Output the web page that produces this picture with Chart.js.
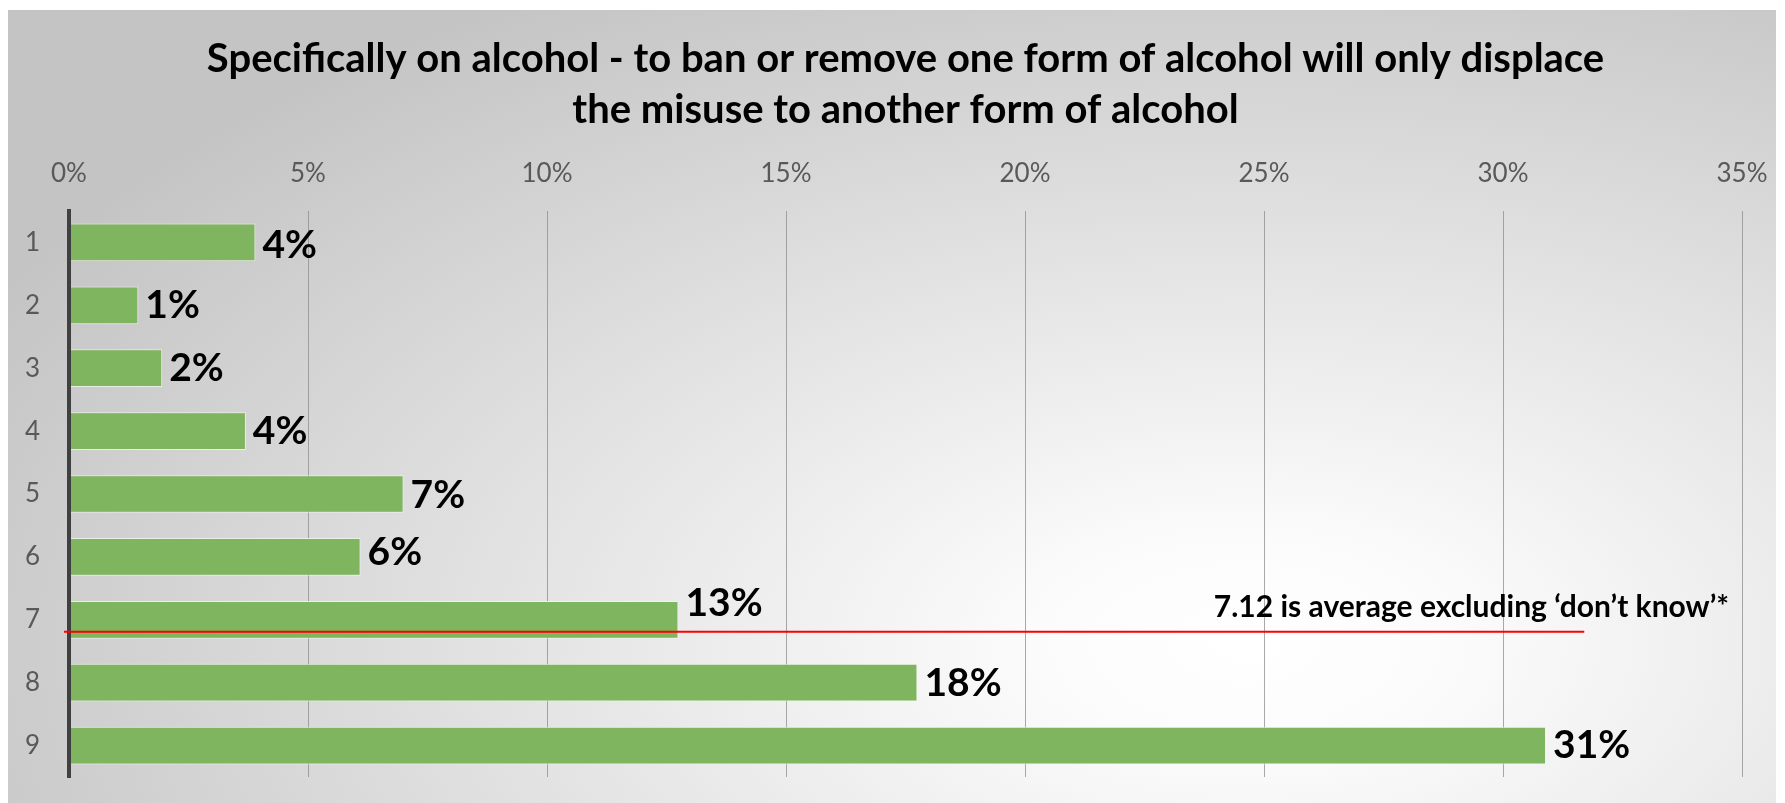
<!DOCTYPE html>
<html>
<head>
<meta charset="utf-8">
<script src="https://cdn.jsdelivr.net/npm/chart.js@4"></script>
<style>
  html, body { margin: 0; padding: 0; background: #fff; }
  body { width: 1785px; height: 803px; position: relative; overflow: hidden; }
  #panel {
    position: absolute; left: 8px; top: 10px; width: 1768px; height: 793px;
    background: radial-gradient(ellipse 80% 95% at 70% 80%, #ffffff 0%, #fbfbfb 15%, #c4c4c4 100%);
  }
  canvas { display: block; }
</style>
</head>
<body>
<div id="panel"><canvas id="chart" width="1768" height="793"></canvas></div>
<script>
// rating 1..9, share of respondents (%)
const categories = ['1', '2', '3', '4', '5', '6', '7', '8', '9'];
const shares = [3.9, 1.45, 1.95, 3.7, 7.0, 6.1, 12.75, 17.75, 30.9];
const xTickStep = 5;
const xMax = 35;

const titleLines = [
  'Specifically on alcohol - to ban or remove one form of alcohol will only displace',
  'the misuse to another form of alcohol'
];

// drawn average marker (category position, x extent in %)
const avgLineAt = 7.19;
const avgLineTo = 31.7;
const avgText = '7.12 is average excluding \u2018don\u2019t know\u2019*';

const barLabels = {
  id: 'barLabels',
  afterDatasetsDraw(chart, args, opts) {
    const ctx = chart.ctx;
    const meta = chart.getDatasetMeta(0);
    ctx.save();
    ctx.font = 'bold 39px Lato';
    ctx.fillStyle = '#000';
    ctx.textAlign = 'left';
    ctx.textBaseline = 'middle';
    meta.data.forEach((bar, i) => {
      const shift = (opts.shift && opts.shift[i]) || 0;
      ctx.fillText(Math.round(shares[i]) + '%', bar.x + 7, bar.y + shift);
    });
    ctx.restore();
  }
};

const avgMarker = {
  id: 'avgMarker',
  afterDraw(chart) {
    const ctx = chart.ctx;
    const x = chart.scales.x, y = chart.scales.y;
    const yy = y.getPixelForValue(avgLineAt - 1);
    ctx.save();
    ctx.strokeStyle = '#ff0000';
    ctx.lineWidth = 2;
    ctx.beginPath();
    ctx.moveTo(chart.chartArea.left - 5, yy);
    ctx.lineTo(x.getPixelForValue(avgLineTo), yy);
    ctx.stroke();
    ctx.font = 'bold 30px Lato';
    ctx.fillStyle = '#000';
    ctx.textAlign = 'right';
    ctx.textBaseline = 'alphabetic';
    ctx.fillText(avgText, chart.chartArea.right - 13, yy - 15);
    ctx.restore();
  }
};

new Chart(document.getElementById('chart'), {
  type: 'bar',
  data: {
    labels: categories,
    datasets: [{
      data: shares,
      backgroundColor: '#7eb55e',
      borderColor: 'rgba(240,246,235,0.8)',
      borderWidth: 1,
      categoryPercentage: 1,
      barPercentage: 0.6
    }]
  },
  options: {
    indexAxis: 'y',
    responsive: false,
    animation: false,
    devicePixelRatio: 1,
    layout: { padding: { left: 0, right: 34, top: 0, bottom: 26 } },
    plugins: {
      legend: { display: false },
      tooltip: { enabled: false },
      title: {
        display: true,
        fullSize: false,
        text: titleLines,
        color: '#000',
        font: { family: 'Lato', size: 40, weight: 'bold', lineHeight: 1.28 },
        padding: { top: 23, bottom: 10 }
      },
      barLabels: { shift: [3, 0, 0, 0, 1, -4, -16, 1, 0] }
    },
    scales: {
      x: {
        position: 'top',
        min: 0,
        max: xMax,
        afterFit: s => { s.height = 65.6; s.paddingLeft = 0; s.paddingRight = 0; },
        ticks: {
          stepSize: xTickStep,
          callback: v => v + '%',
          color: '#595959',
          font: { family: 'Lato', size: 26 },
          padding: 22
        },
        grid: { color: 'rgba(140,140,140,0.75)', lineWidth: 1, drawTicks: false },
        border: { display: false }
      },
      y: {
        afterFit: s => { s.width = 61; s.paddingTop = 0; s.paddingBottom = 0; },
        ticks: {
          color: '#595959',
          font: { family: 'Lato', size: 26 },
          padding: 29
        },
        grid: { display: false, drawTicks: false },
        border: { display: true, color: '#404040', width: 4, z: 1 }
      }
    }
  },
  plugins: [barLabels, avgMarker]
});
</script>
</body>
</html>
